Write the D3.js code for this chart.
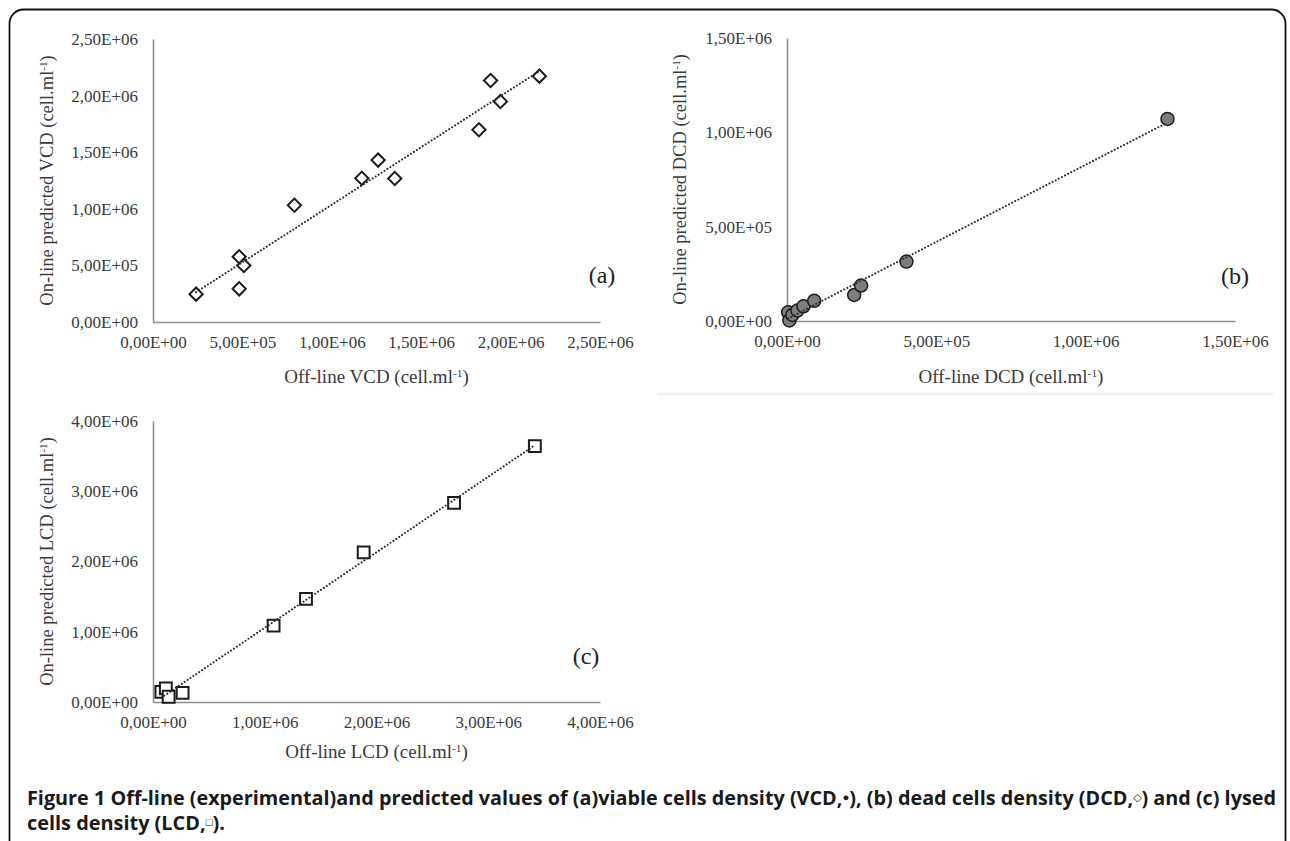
<!DOCTYPE html>
<html>
<head>
<meta charset="utf-8">
<script src="https://cdn.jsdelivr.net/npm/d3@7/dist/d3.min.js"></script>
<style>
    body { margin: 0; background: #fff; }
    svg { display: block; }
</style>
</head>
<body>
<svg id="chart" width="1290" height="841"></svg>
<script>
// (a) viable cells density
const vcdOffline = [2.41e5, 4.82e5, 5.08e5, 4.82e5, 7.91e5, 1.168e6, 1.259e6, 1.352e6, 1.823e6, 1.888e6, 1.943e6, 2.161e6];
const vcdOnline  = [2.46e5, 5.76e5, 4.99e5, 2.93e5, 1.031e6, 1.270e6, 1.430e6, 1.268e6, 1.699e6, 2.134e6, 1.948e6, 2.172e6];
const vcdTicks = [0, 5e5, 1e6, 1.5e6, 2e6, 2.5e6];

// (b) dead cells density
const dcdOffline = [4e3, 8e3, 1.8e4, 3.5e4, 5.5e4, 9.1e4, 2.25e5, 2.48e5, 4.0e5, 1.274e6];
const dcdOnline  = [4.6e4, 3e3, 3.2e4, 5.5e4, 7.8e4, 1.07e5, 1.38e5, 1.88e5, 3.15e5, 1.071e6];
const dcdTicksX = [0, 5e5, 1e6, 1.5e6];
const dcdTicksY = [0, 5e5, 1e6, 1.5e6];

// (c) lysed cells density
const lcdOffline = [7.5e4, 1.15e5, 1.4e5, 2.65e5, 1.079e6, 1.369e6, 1.885e6, 2.694e6, 3.417e6];
const lcdOnline  = [1.45e5, 1.95e5, 7.5e4, 1.3e5, 1.086e6, 1.467e6, 2.129e6, 2.834e6, 3.643e6];
const lcdTicks = [0, 1e6, 2e6, 3e6, 4e6];

const panelLabels = ["(a)", "(b)", "(c)"];
const xTitles = ["Off-line VCD", "Off-line DCD", "Off-line LCD"];
const yTitles = ["On-line predicted VCD", "On-line predicted DCD", "On-line predicted LCD"];
const unitText = " (cell.ml";
const unitSup = "-1";

// caption pieces: [text, isSymbol]
const captionLine1 = [
    ["Figure 1", false],
    [" Off-line (experimental)and predicted values of (a)viable cells density (VCD,", false],
    ["\u25CF", true],
    ["), (b) dead cells density (DCD,", false],
    ["\u25C7", true],
    [") and (c) lysed", false]
];
const captionLine2 = [
    ["cells density (LCD,", false],
    ["\u25A1", true],
    [").", false]
];

const svg = d3.select("#chart");

const colors = {
    axis: "#8f8f8f",
    text: "#3a3a3a",
    marker: "#1c1c1c",
    circleFill: "#7d7d7d",
    trend: "#2b2b2b"
};

// 2,50E+06 style labels
const sciFormat = v => {
    const [m, e] = v.toExponential(2).split("e");
    const exp = Math.abs(+e).toString().padStart(2, "0");
    return m.replace(".", ",") + "E" + (+e < 0 ? "-" : "+") + exp;
};

const linearFit = (xs, ys) => {
    const mx = d3.mean(xs), my = d3.mean(ys);
    const slope = d3.sum(xs, (x, i) => (x - mx) * (ys[i] - my)) / d3.sum(xs, x => (x - mx) ** 2);
    return x => my + slope * (x - mx);
};

const addUnitTitle = (sel, main) => {
    sel.append("tspan").text(main + unitText);
    sel.append("tspan").attr("font-size", "0.6em").attr("dy", "-0.5em").text(unitSup);
    sel.append("tspan").attr("dy", "0.3em").text(")");
};

const panels = [
    {
        xs: vcdOffline, ys: vcdOnline, xTicks: vcdTicks, yTicks: vcdTicks,
        left: 153, right: 600, top: 39, bottom: 322,
        marker: "diamond", label: panelLabels[0], labelPos: [602, 283],
        xTitle: xTitles[0], yTitle: yTitles[0], xTitleY: 383, yTitleX: 53
    },
    {
        xs: dcdOffline, ys: dcdOnline, xTicks: dcdTicksX, yTicks: dcdTicksY,
        left: 787, right: 1235, top: 38, bottom: 321,
        marker: "circle", label: panelLabels[1], labelPos: [1235, 284],
        xTitle: xTitles[1], yTitle: yTitles[1], xTitleY: 383, yTitleX: 686
    },
    {
        xs: lcdOffline, ys: lcdOnline, xTicks: lcdTicks, yTicks: lcdTicks,
        left: 153, right: 600, top: 421, bottom: 702,
        marker: "square", label: panelLabels[2], labelPos: [586, 664],
        xTitle: xTitles[2], yTitle: yTitles[2], xTitleY: 758, yTitleX: 53
    }
];

// outer frame
svg.append("rect")
    .attr("x", 9.5).attr("y", 9.5)
    .attr("width", 1276).attr("height", 900)
    .attr("rx", 14)
    .attr("fill", "none")
    .attr("stroke", "#111")
    .attr("stroke-width", 1.8);

// faint edge of the empty fourth slot
svg.append("line")
    .attr("x1", 657).attr("x2", 1273)
    .attr("y1", 394).attr("y2", 394)
    .attr("stroke", "#f3f3f3")
    .attr("stroke-width", 3);

panels.forEach(p => {
    const x = d3.scaleLinear().domain(d3.extent(p.xTicks)).range([p.left, p.right]);
    const y = d3.scaleLinear().domain(d3.extent(p.yTicks)).range([p.bottom, p.top]);
    const g = svg.append("g");

    // axes
    const xAxis = g.append("g")
        .attr("transform", `translate(0,${p.bottom})`)
        .call(d3.axisBottom(x).tickValues(p.xTicks).tickSize(0).tickPadding(14).tickFormat(sciFormat));
    const yAxis = g.append("g")
        .attr("transform", `translate(${p.left},0)`)
        .call(d3.axisLeft(y).tickValues(p.yTicks).tickSize(0).tickPadding(15).tickFormat(sciFormat));

    [xAxis, yAxis].forEach(a => {
        a.select(".domain").attr("stroke", colors.axis).attr("stroke-width", 1.6);
        a.selectAll("text")
            .attr("font-family", "'Liberation Serif', 'DejaVu Serif', serif")
            .attr("font-size", 17)
            .attr("fill", colors.text);
    });

    // markers
    const pts = p.xs.map((v, i) => ({ x: v, y: p.ys[i] }));
    const marks = g.append("g");
    if (p.marker === "circle") {
        marks.selectAll("circle")
            .data(pts)
            .join("circle")
            .attr("cx", d => x(d.x))
            .attr("cy", d => y(d.y))
            .attr("r", 6.5)
            .attr("fill", colors.circleFill)
            .attr("stroke", colors.marker)
            .attr("stroke-width", 1.5);
    } else {
        const isDiamond = p.marker === "diamond";
        marks.selectAll("path")
            .data(pts)
            .join("path")
            .attr("d", d3.symbol().type(d3.symbolSquare).size(isDiamond ? 88 : 140)())
            .attr("transform", d => `translate(${x(d.x)},${y(d.y)})` + (isDiamond ? " rotate(45)" : ""))
            .attr("fill", "#fff")
            .attr("stroke", colors.marker)
            .attr("stroke-width", 2);
    }

    // dotted linear trendline, drawn over the markers
    const fit = linearFit(p.xs, p.ys);
    const [x0, x1] = d3.extent(p.xs);
    g.append("path")
        .datum([x0, x1])
        .attr("d", d3.line().x(d => x(d)).y(d => y(fit(d))))
        .attr("fill", "none")
        .attr("stroke", colors.trend)
        .attr("stroke-width", 2)
        .attr("stroke-linecap", "round")
        .attr("stroke-dasharray", "0.1 3.4");

    // panel letter
    g.append("text")
        .attr("x", p.labelPos[0])
        .attr("y", p.labelPos[1])
        .attr("text-anchor", "middle")
        .attr("font-family", "'Liberation Serif', serif")
        .attr("font-size", 24)
        .attr("fill", "#222")
        .text(p.label);

    // axis titles
    const xt = g.append("text")
        .attr("x", (p.left + p.right) / 2)
        .attr("y", p.xTitleY)
        .attr("text-anchor", "middle")
        .attr("font-family", "'Liberation Serif', serif")
        .attr("font-size", 19)
        .attr("fill", colors.text);
    addUnitTitle(xt, p.xTitle);

    const yt = g.append("text")
        .attr("transform", `translate(${p.yTitleX},${(p.top + p.bottom) / 2}) rotate(-90)`)
        .attr("text-anchor", "middle")
        .attr("font-family", "'Liberation Serif', serif")
        .attr("font-size", 18.5)
        .attr("fill", colors.text);
    addUnitTitle(yt, p.yTitle);
});

// caption (condensed bold sans, justified on the first line)
const cap = svg.append("g")
    .attr("font-family", "'Open Sans', 'Noto Sans', sans-serif")
    .attr("font-size", 19)
    .attr("font-weight", 700)
    .attr("fill", "#1a1a1a");

const addCaptionPieces = (sel, pieces) => {
    pieces.forEach(([t, isSymbol]) => {
        const ts = sel.append("tspan").text(t);
        if (isSymbol) ts.attr("font-size", 11).attr("font-weight", 400).attr("baseline-shift", "35%");
    });
};

const line1 = cap.append("text")
    .attr("x", 27)
    .attr("y", 805)
    .attr("textLength", 1249)
    .attr("lengthAdjust", "spacingAndGlyphs");
addCaptionPieces(line1, captionLine1);

const line2 = cap.append("text")
    .attr("x", 27)
    .attr("y", 830)
    .attr("textLength", 198)
    .attr("lengthAdjust", "spacingAndGlyphs");
addCaptionPieces(line2, captionLine2);
</script>
</body>
</html>
